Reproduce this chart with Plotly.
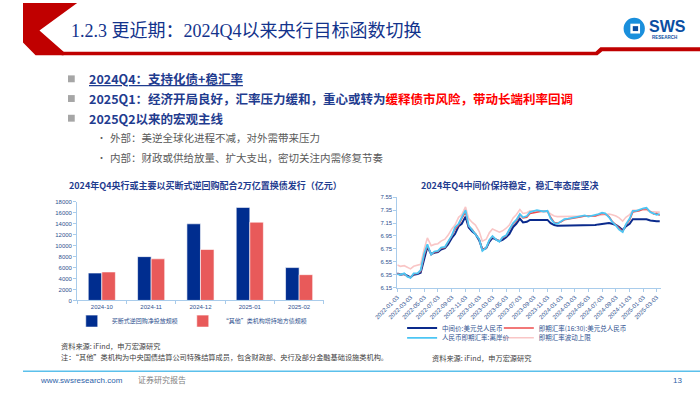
import plotly.graph_objects as go

W, H = 700, 394


def X(px):
    return px / W


def Y(py):
    return 1 - py / H


# ---------------- data: left chart (亿元) ----------------
bar_months = ["2024-10", "2024-11", "2024-12", "2025-01", "2025-02"]
repo_net = [5000, 8000, 14000, 17000, 6000]
other_local = [5200, 7600, 9300, 14300, 4700]

# ---------------- data: right chart (USD/CNY) ----------------
fx_dates = [f"{y}-{m:02d}-{d:02d}" for y in (2022, 2023, 2024, 2025)
            for m in range(1, 13) for d in (3, 17) if (y, m) <= (2025, 3)]

fx_mid = [
    6.37, 6.35, 6.36, 6.33, 6.31, 6.35, 6.36, 6.38, 6.62, 6.78, 6.67, 6.69,
    6.70, 6.74, 6.76, 6.82, 6.92, 6.98, 7.10, 7.14, 7.25, 7.08, 7.02, 6.98,
    6.88, 6.74, 6.76, 6.86, 6.92, 6.90, 6.87, 6.89, 6.93, 6.98, 7.09, 7.14,
    7.22, 7.16, 7.17, 7.20, 7.20, 7.20, 7.20, 7.20, 7.20, 7.15, 7.12, 7.11,
    7.11, 7.12, 7.11, 7.11, 7.11, 7.11, 7.11, 7.11, 7.11, 7.12, 7.12, 7.13,
    7.14, 7.14, 7.15, 7.14, 7.12, 7.09, 7.04, 7.10, 7.14, 7.21, 7.21, 7.21,
    7.21, 7.21, 7.19, 7.18, 7.18, 7.18,
]
fx_spot = [
    6.37, 6.35, 6.36, 6.32, 6.31, 6.36, 6.37, 6.40, 6.65, 6.80, 6.66, 6.70,
    6.71, 6.76, 6.77, 6.85, 6.95, 7.05, 7.12, 7.22, 7.32, 7.10, 7.05, 6.98,
    6.90, 6.74, 6.76, 6.88, 6.94, 6.90, 6.87, 6.92, 6.95, 7.04, 7.14, 7.18,
    7.28, 7.23, 7.24, 7.30, 7.31, 7.33, 7.33, 7.33, 7.33, 7.24, 7.16, 7.15,
    7.17, 7.20, 7.21, 7.22, 7.22, 7.23, 7.25, 7.26, 7.26, 7.25, 7.26, 7.28,
    7.30, 7.29, 7.25, 7.18, 7.12, 7.07, 7.02, 7.12, 7.20, 7.32, 7.33, 7.34,
    7.37, 7.37, 7.33, 7.29, 7.30, 7.27,
]
fx_cnh = [
    6.36, 6.35, 6.37, 6.32, 6.30, 6.37, 6.37, 6.42, 6.68, 6.82, 6.66, 6.71,
    6.72, 6.77, 6.78, 6.86, 6.96, 7.08, 7.14, 7.24, 7.35, 7.11, 7.04, 6.97,
    6.90, 6.72, 6.77, 6.89, 6.95, 6.90, 6.86, 6.93, 6.96, 7.05, 7.15, 7.20,
    7.29, 7.24, 7.26, 7.32, 7.33, 7.35, 7.34, 7.33, 7.34, 7.22, 7.15, 7.14,
    7.18, 7.21, 7.22, 7.23, 7.23, 7.24, 7.26, 7.27, 7.25, 7.26, 7.27, 7.29,
    7.31, 7.30, 7.24, 7.17, 7.11, 7.05, 7.01, 7.13, 7.22, 7.34, 7.34, 7.36,
    7.38, 7.39, 7.32, 7.30, 7.28, 7.29,
]
fx_upper = [
    6.50, 6.48, 6.49, 6.46, 6.44, 6.48, 6.49, 6.51, 6.75, 6.92, 6.80, 6.82,
    6.83, 6.87, 6.90, 6.96, 7.06, 7.12, 7.24, 7.28, 7.40, 7.22, 7.16, 7.12,
    7.02, 6.87, 6.90, 7.00, 7.06, 7.04, 7.01, 7.03, 7.07, 7.12, 7.23, 7.28,
    7.36, 7.30, 7.31, 7.34, 7.34, 7.34, 7.34, 7.34, 7.34, 7.29, 7.26, 7.25,
    7.25, 7.26, 7.25, 7.25, 7.25, 7.25, 7.25, 7.25, 7.25, 7.26, 7.26, 7.27,
    7.28, 7.28, 7.29, 7.28, 7.26, 7.23, 7.18, 7.24, 7.28, 7.35, 7.35, 7.35,
    7.35, 7.35, 7.33, 7.32, 7.32, 7.32,
]
fx_ticks = [
    "2022-01-03", "2022-03-03", "2022-05-03", "2022-07-03", "2022-09-03",
    "2022-11-03", "2023-01-03", "2023-03-03", "2023-05-03", "2023-07-03",
    "2023-09-03", "2023-11-03", "2024-01-03", "2024-03-03", "2024-05-03",
    "2024-07-03", "2024-09-03", "2024-11-03", "2025-01-03", "2025-03-03",
]

# ---------------- styles ----------------
CJK = "Noto Sans CJK SC, Noto Sans, sans-serif"
LAT = "Liberation Sans, Noto Sans CJK SC, sans-serif"
NAVY = "#1F3C8F"
TICK = "#2F528F"
AXIS = "#A9CCEB"
GRAY = "#595959"

fig = go.Figure()

fig.add_bar(x=bar_months, y=repo_net, name="买断式逆回购净投放规模",
            marker=dict(color="#002D8F", line=dict(color="white", width=0.6)),
            xaxis="x", yaxis="y", legend="legend")
fig.add_bar(x=bar_months, y=other_local, name="“其他”类机构增持地方债规模",
            marker=dict(color="#E85A5A", line=dict(color="white", width=0.6)),
            xaxis="x", yaxis="y", legend="legend")

fig.add_scatter(x=fx_dates, y=fx_upper, name="即期汇率波动上限", mode="lines",
                line=dict(color="#F9C6C6", width=1.6), xaxis="x2", yaxis="y2",
                legend="legend5")
fig.add_scatter(x=fx_dates, y=fx_mid, name="中间价:美元兑人民币", mode="lines",
                line=dict(color="#0A2A8C", width=2), xaxis="x2", yaxis="y2",
                legend="legend2")
fig.add_scatter(x=fx_dates, y=fx_spot, name="即期汇率(16:30):美元兑人民币",
                mode="lines", line=dict(color="#EE4B4B", width=1.5),
                xaxis="x2", yaxis="y2", legend="legend3")
fig.add_scatter(x=fx_dates, y=fx_cnh, name="人民币即期汇率:离岸价", mode="lines",
                line=dict(color="#4CC6F4", width=1.8), xaxis="x2", yaxis="y2",
                legend="legend4")


def leg(x, y, anchor="left", size=6.5):
    return dict(x=X(x), y=Y(y), xanchor=anchor, yanchor="middle",
                orientation="h", bgcolor="rgba(0,0,0,0)", borderwidth=0,
                font=dict(family=CJK, size=size, color=TICK),
                itemwidth=30, tracegroupgap=0)


def axis_common():
    return dict(showline=True, linecolor=AXIS, linewidth=1, ticks="outside",
                tickcolor=AXIS, ticklen=3, showgrid=False, zeroline=False,
                tickfont=dict(family=LAT, size=6, color=TICK))


fig.update_layout(
    width=W, height=H, margin=dict(l=0, r=0, t=0, b=0),
    paper_bgcolor="white", plot_bgcolor="white",
    font=dict(family=CJK, color=NAVY),
    bargap=0.45, bargroupgap=0, barmode="group",
    showlegend=True,
    xaxis=dict(domain=[X(56), X(311)], anchor="y", type="category",
               side="bottom", tickson="boundaries", **axis_common()),
    yaxis=dict(domain=[Y(302), Y(202)], anchor="x", range=[0, 18000],
               dtick=2000, tickformat="d", **axis_common()),
    xaxis2=dict(domain=[X(387), X(660)], anchor="y2", type="date",
                range=["2022-01-03", "2025-03-24"], tickvals=fx_ticks,
                ticktext=fx_ticks, tickangle=-45, **axis_common()),
    yaxis2=dict(domain=[Y(289), Y(197.3)], anchor="x2", range=[6.15, 7.55],
                tick0=6.15, dtick=0.2, tickformat=".2f", **axis_common()),
    legend=leg(175, 323, anchor="center", size=6),
    legend2=leg(392, 330),
    legend3=leg(492, 330),
    legend4=leg(392, 340),
    legend5=leg(492, 340),
)

# ---------------- decorative shapes ----------------
def path(points):
    return "M " + " L ".join(f"{X(a)},{Y(b)}" for a, b in points) + " Z"


shapes = [
    dict(type="path", xref="paper", yref="paper", fillcolor="#C00000",
         line=dict(width=0),
         path=path([(0, 0), (56, 0), (17, 28), (42, 49.5), (42, 53), (13, 53), (0, 40)])),
    dict(type="path", xref="paper", yref="paper", fillcolor="#C00000",
         line=dict(width=0),
         path=path([(40, 49.5), (592, 49.5), (597, 45), (700, 45), (700, 49),
                    (599, 49), (594, 53), (40, 53)])),
    dict(type="line", xref="paper", yref="paper", x0=0, x1=1, y0=Y(374), y1=Y(374),
         line=dict(color="#5BC0EB", width=1.5)),
    dict(type="circle", xref="paper", yref="paper", x0=X(621), x1=X(643),
         y0=Y(37), y1=Y(15), fillcolor="#1A8FDC", line=dict(width=0)),
    dict(type="rect", xref="paper", yref="paper", x0=X(628), x1=X(638),
         y0=Y(31), y1=Y(21), fillcolor="white", line=dict(width=0)),
    dict(type="rect", xref="paper", yref="paper", x0=X(630.5), x1=X(636),
         y0=Y(28.5), y1=Y(23.5), fillcolor="#0B4EA2", line=dict(width=0)),
]
for yy in (77, 97, 117):
    shapes.append(dict(type="rect", xref="paper", yref="paper",
                       x0=X(46.5), x1=X(53.5), y0=Y(yy + 3.5), y1=Y(yy - 3.5),
                       fillcolor="#A6A6A6", line=dict(width=0)))
fig.update_layout(shapes=shapes)

# ---------------- texts ----------------
ann = []


def txt(x, y, s, size, color, family=CJK, anchor="left"):
    ann.append(dict(x=X(x), y=Y(y), xref="paper", yref="paper", text=s,
                    showarrow=False, xanchor=anchor, yanchor="middle",
                    font=dict(family=family, size=size, color=color)))


txt(48, 28, "1.2.3 更近期：2024Q4以来央行目标函数切换", 18, "#13338C",
    family="Liberation Serif, Noto Sans CJK SC, serif")
txt(645, 24, "<b>SWS</b>", 16, "#0B4EA2", family=LAT)
txt(663, 35, "<b>RESEARCH</b>", 4.5, "#0B4EA2", family=LAT, anchor="center")

txt(66, 77, "<u><b>2024Q4：支持化债+稳汇率</b></u>", 12.5, NAVY)
txt(66, 97, "<b>2025Q1：经济开局良好，汇率压力缓和，重心或转为"
    "<span style='color:#FF0000'>缓释债市风险，带动长端利率回调</span></b>", 12.5, NAVY)
txt(66, 117, "<b>2025Q2以来的宏观主线</b>", 12.5, NAVY)
txt(74, 137, "•", 9, GRAY)
txt(88, 137, "外部：美逆全球化进程不减，对外需带来压力", 10.5, GRAY)
txt(74, 157, "•", 9, GRAY)
txt(88, 157, "内部：财政或供给放量、扩大支出，密切关注内需修复节奏", 10.5, GRAY)

txt(189, 185, "<b>2024年Q4央行或主要以买断式逆回购配合2万亿置换债发行（亿元）</b>", 9, NAVY,
    anchor="center")
txt(503, 185, "<b>2024年Q4中间价保持稳定，稳汇率态度坚决</b>", 9, NAVY, anchor="center")

txt(37, 348, "资料来源: iFind，申万宏源研究", 7.2, "#404040")
txt(37, 359, "注：“其他”类机构为中央国债结算公司特殊结算成员，包含财政部、央行及部分金融基础设施类机构。",
    7.2, "#404040")
txt(421, 360, "资料来源: iFind，申万宏源研究", 7.2, "#404040")

txt(16, 383, "www.swsresearch.com", 8, "#2E5FA8", family=LAT)
txt(117, 382, "证券研究报告", 8, "#7F7F7F")
txt(677, 383, "13", 8, "#2E5FA8", family=LAT, anchor="center")

fig.update_layout(annotations=ann)

fig.write_html("out.html", config={"displayModeBar": False},
               post_script="document.body.style.margin='0';"
                           "document.body.style.overflow='hidden';")
